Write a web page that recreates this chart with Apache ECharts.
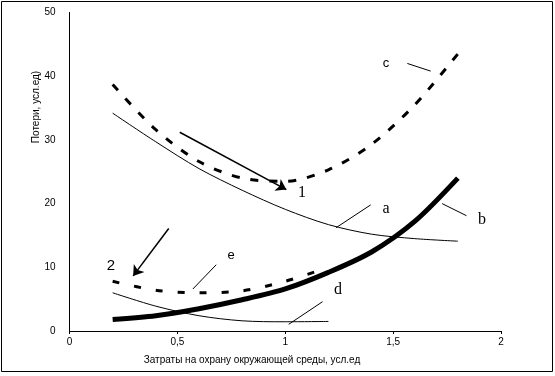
<!DOCTYPE html>
<html>
<head>
<meta charset="utf-8">
<script src="https://cdn.jsdelivr.net/npm/echarts@6/dist/echarts.min.js"></script>
<style>
html,body{margin:0;padding:0;background:#fff;}
#chart{width:555px;height:376px;}
</style>
</head>
<body>
<div id="chart"></div>
<script>
// данные кривых (x - затраты, y - потери)
var xLong = [0.2, 0.4, 0.6, 0.8, 1.0, 1.2, 1.4, 1.6, 1.8];
var xShort = [0.2, 0.4, 0.6, 0.8, 1.0, 1.2];
var curveA = [34.2, 29.7, 25.5, 22.1, 19.1, 16.7, 15.2, 14.5, 14.1];
var curveB = [1.8, 2.4, 3.5, 4.9, 6.6, 9.2, 12.4, 17.2, 24.0];
var curveC = [38.7, 31.6, 26.6, 24.0, 23.5, 25.3, 29.3, 35.5, 43.5];
var curveD = [6.0, 3.9, 2.4, 1.6, 1.45, 1.5];
var curveE = [7.8, 6.4, 6.0, 6.3, 7.8, 10.0];
var xTicks = [0, 0.5, 1, 1.5, 2];

function pairs(xs, ys){
	var out = [];
	for (var i = 0; i < ys.length; i++) out.push([xs[i], ys[i]]);
	return out;
}

// стрелки и выноски
var arrows = [
	[[0.511, 31.2], [1.005, 22.2]],
	[[0.46, 16.1], [0.295, 8.65]]
];
var leaders = [
	[[1.566, 42.0], [1.674, 40.8]],
	[[1.235, 16.2], [1.396, 19.8]],
	[[1.727, 20.0], [1.84, 18.1]],
	[[1.016, 1.05], [1.173, 4.6]],
	[[0.572, 6.6], [0.68, 10.4]]
];

var chart = echarts.init(document.getElementById("chart"));
var serif = '"Liberation Serif", "DejaVu Serif", serif';
var sans = '"Liberation Sans", Arial, sans-serif';

function txt(text, x, y, size, font){
	return {type:'text', x:x, y:y, style:{text:text, fill:'#000', font: size + 'px ' + font, textAlign:'center', textVerticalAlign:'middle'}};
}

var option = {
	animation: false,
	grid: {left: 69.5, right: 54, top: 12.5, bottom: 45},
	xAxis: {
		type: 'value', min: 0, max: 2, interval: 0.5,
		axisLine: {lineStyle: {color: '#000', width: 1}},
		axisTick: {show: true, length: 3, lineStyle: {color: '#000'}},
		splitLine: {show: false},
		axisLabel: {color: '#000', fontSize: 10, fontFamily: sans, margin: 6,
			formatter: function(v){ return xTicks.indexOf(v) >= 0 ? String(v).replace('.', ',') : ''; }}
	},
	yAxis: {
		type: 'value', min: 0, max: 50, interval: 10,
		axisLine: {show: true, lineStyle: {color: '#000', width: 1}},
		axisTick: {show: false},
		splitLine: {show: false},
		axisLabel: {color: '#000', fontSize: 10, fontFamily: sans, margin: 14}
	},
	series: [
		{type:'line', name:'a', data: pairs(xLong, curveA), smooth: 0.3, symbol:'none',
			lineStyle:{color:'#000', width:1}},
		{type:'line', name:'b', data: pairs(xLong, curveB), smooth: 0.3, symbol:'none',
			lineStyle:{color:'#000', width:5}},
		{type:'line', name:'c', data: pairs(xLong, curveC), smooth: 0.3, symbol:'none',
			lineStyle:{color:'#000', width:3, type:[8, 11]}},
		{type:'line', name:'d', data: pairs(xShort, curveD), smooth: 0.3, symbol:'none',
			lineStyle:{color:'#000', width:1}},
		{type:'line', name:'e', data: pairs(xShort, curveE), smooth: 0.3, symbol:'none',
			lineStyle:{color:'#000', width:3, type:[7, 15]}},
		{type:'lines', coordinateSystem:'cartesian2d', symbol:['none','arrow'], symbolSize:10,
			lineStyle:{color:'#000', width:1.5, opacity:1},
			data: arrows.map(function(a){ return {coords:a}; })},
		{type:'lines', coordinateSystem:'cartesian2d', symbol:'none',
			lineStyle:{color:'#000', width:1, opacity:1},
			data: leaders.map(function(a){ return {coords:a}; })}
	],
	graphic: [
		{type:'rect', shape:{x:1.5, y:1.5, width:551, height:370}, style:{fill:'none', stroke:'#000', lineWidth:1}},
		{type:'text', x:36, y:107, rotation:Math.PI/2,
			style:{text:'Потери, усл.ед)', fill:'#000', font:'10px ' + sans, textAlign:'center', textVerticalAlign:'middle'}},
		txt('Затраты на охрану окружающей среды, усл.ед', 252, 360, 10, sans),
		txt('c', 386, 63, 13, sans),
		txt('a', 386, 209, 16, serif),
		txt('b', 482, 220, 16, serif),
		txt('d', 338, 290, 16, serif),
		txt('e', 231, 255, 13, sans),
		txt('1', 302, 193, 16, serif),
		txt('2', 111, 266, 15, sans)
	]
};

chart.setOption(option);
</script>
</body>
</html>
